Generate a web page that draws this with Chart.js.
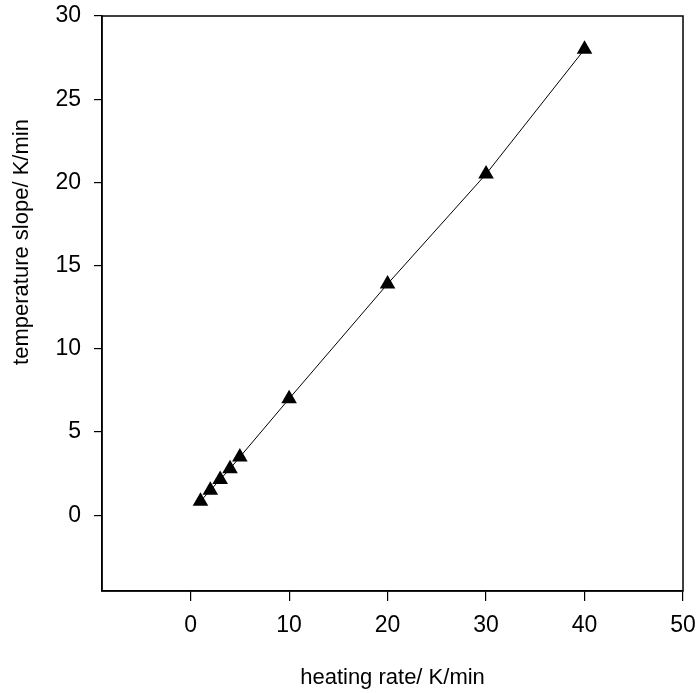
<!DOCTYPE html>
<html>
<head>
<meta charset="utf-8">
<script src="https://cdn.jsdelivr.net/npm/chart.js@4/dist/chart.umd.min.js"></script>
<style>
html,body{margin:0;padding:0;background:#fff;}
#wrap{width:697px;height:693px;}
</style>
</head>
<body>
<div id="wrap"><canvas id="c" width="697" height="693"></canvas></div>
<script>
const heatingRate = [1, 2, 3, 4, 5, 10, 20, 30, 40];
const temperatureSlope = [0.85, 1.5, 2.15, 2.8, 3.5, 7.0, 13.9, 20.5, 28.0];
const xTicks = [0, 10, 20, 30, 40, 50];
const yTicks = [0, 5, 10, 15, 20, 25, 30];
const xTitle = 'heating rate/ K/min';
const yTitle = 'temperature slope/ K/min';

const FONT = "'Liberation Sans', Arial, sans-serif";

const frame = {
  id: 'frame',
  afterDraw(chart) {
    const {ctx, chartArea: a} = chart;
    ctx.save();
    ctx.strokeStyle = '#000';
    ctx.lineWidth = 1.5;
    ctx.strokeRect(a.left, a.top, a.right - a.left, a.bottom - a.top);
    ctx.fillStyle = '#000';
    ctx.font = '22px ' + FONT;
    ctx.textAlign = 'center';
    ctx.textBaseline = 'middle';
    ctx.fillText(xTitle, (a.left + a.right) / 2, a.bottom + 87);
    ctx.translate(22, a.top + 226);
    ctx.rotate(-Math.PI / 2);
    ctx.fillText(yTitle, 0, 0);
    ctx.restore();
  }
};

function noPad(s) {
  s.paddingTop = 0; s.paddingBottom = 0; s.paddingLeft = 0; s.paddingRight = 0;
}

new Chart(document.getElementById('c'), {
  type: 'scatter',
  data: {
    datasets: [{
      data: heatingRate.map((x, i) => ({x, y: temperatureSlope[i]})),
      showLine: true,
      borderColor: '#000',
      borderWidth: 1,
      backgroundColor: '#000',
      pointStyle: 'triangle',
      pointRadius: 9,
      pointHoverRadius: 9,
      pointBorderWidth: 0
    }]
  },
  options: {
    responsive: false,
    animation: false,
    layout: {padding: {top: 16, right: 14, left: 0, bottom: 0}},
    plugins: {legend: {display: false}, tooltip: {enabled: false}},
    scales: {
      x: {
        type: 'linear', min: -9, max: 50,
        afterBuildTicks(s) { s.ticks = xTicks.map(v => ({value: v})); },
        afterFit(s) { s.height = 102; noPad(s); },
        grid: {drawOnChartArea: false, drawTicks: true, tickLength: 10, color: '#000', lineWidth: 1.2},
        border: {display: true, color: '#000', width: 1.5},
        ticks: {color: '#000', font: {family: FONT, size: 23}, padding: 11, maxRotation: 0}
      },
      y: {
        type: 'linear', min: -4.55, max: 30,
        afterBuildTicks(s) { s.ticks = yTicks.map(v => ({value: v})); },
        afterFit(s) { s.width = 102; noPad(s); },
        grid: {drawOnChartArea: false, drawTicks: true, tickLength: 8, color: '#000', lineWidth: 1.2},
        border: {display: true, color: '#000', width: 1.5},
        ticks: {color: '#000', font: {family: FONT, size: 23}, padding: 13}
      }
    }
  },
  plugins: [frame]
});
</script>
</body>
</html>
